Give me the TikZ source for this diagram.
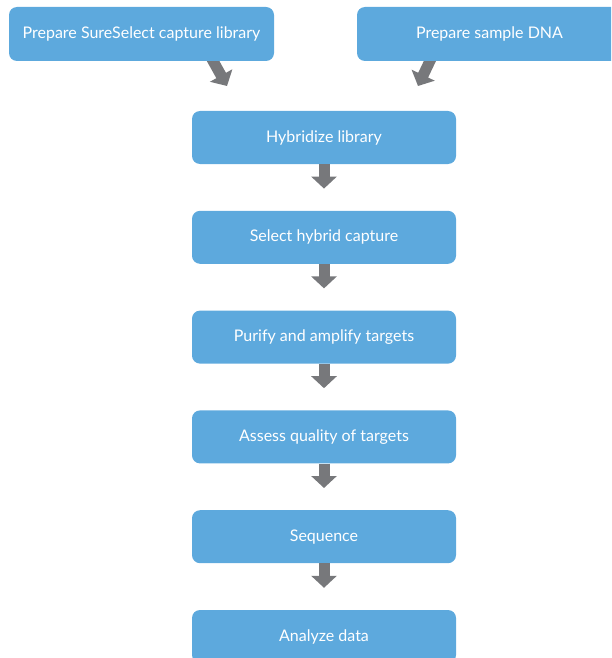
\documentclass[tikz,border=0pt]{standalone}
\usepackage{fontspec}
\setmainfont{Lato}
\usetikzlibrary{positioning,arrows.meta,backgrounds}
\definecolor{boxblue}{RGB}{93,169,221}
\definecolor{arrowgray}{RGB}{119,120,123}

\begin{document}
\begin{tikzpicture}[x=1pt,y=-1pt,
   stepbox/.style={rectangle,rounded corners=8pt,fill=boxblue,text=white,
      minimum width=264pt,minimum height=53pt,font=\fontsize{16}{19}\selectfont},
   bigarrow/.style={arrowgray,line width=11pt,-{Triangle[width=25pt,length=12pt]}}]
   \clip (0,0) rectangle (611,658);
   \node (lib) at (141.5,34) [stepbox,minimum width=265pt,minimum height=54pt] {Prepare SureSelect capture library};
   \node (dna) at (489.5,34) [stepbox,minimum width=265pt,minimum height=54pt] {Prepare sample DNA};
   \node (hyb) at (324,137.5) [stepbox] {Hybridize library};
   \node (sel) [stepbox,below=46.4pt of hyb] {Select hybrid capture};
   \node (pur) [stepbox,below=46.4pt of sel] {Purify and amplify targets};
   \node (qual) [stepbox,below=46.4pt of pur] {Assess quality of targets};
   \node (seq) [stepbox,below=46.4pt of qual] {Sequence};
   \node (ana) [stepbox,below=46.4pt of seq] {Analyze data};
   \coordinate (libtip) at (227,86);
   \coordinate (dnatip) at (418,86);
   \begin{scope}[on background layer]
   \draw[bigarrow] ([xshift=-63.8pt,yshift=5pt]lib.south east) -- (libtip);
   \draw[bigarrow] ([xshift=75.4pt,yshift=5pt]dna.south west) -- (dnatip);
   \end{scope}
   \draw[bigarrow,shorten >=22pt] (hyb.south) -- (sel.north);
   \draw[bigarrow,shorten >=22pt] (sel.south) -- (pur.north);
   \draw[bigarrow,shorten >=22pt] (pur.south) -- (qual.north);
   \draw[bigarrow,shorten >=22pt] (qual.south) -- (seq.north);
   \draw[bigarrow,shorten >=22pt] (seq.south) -- (ana.north);
\end{tikzpicture}
\end{document}
